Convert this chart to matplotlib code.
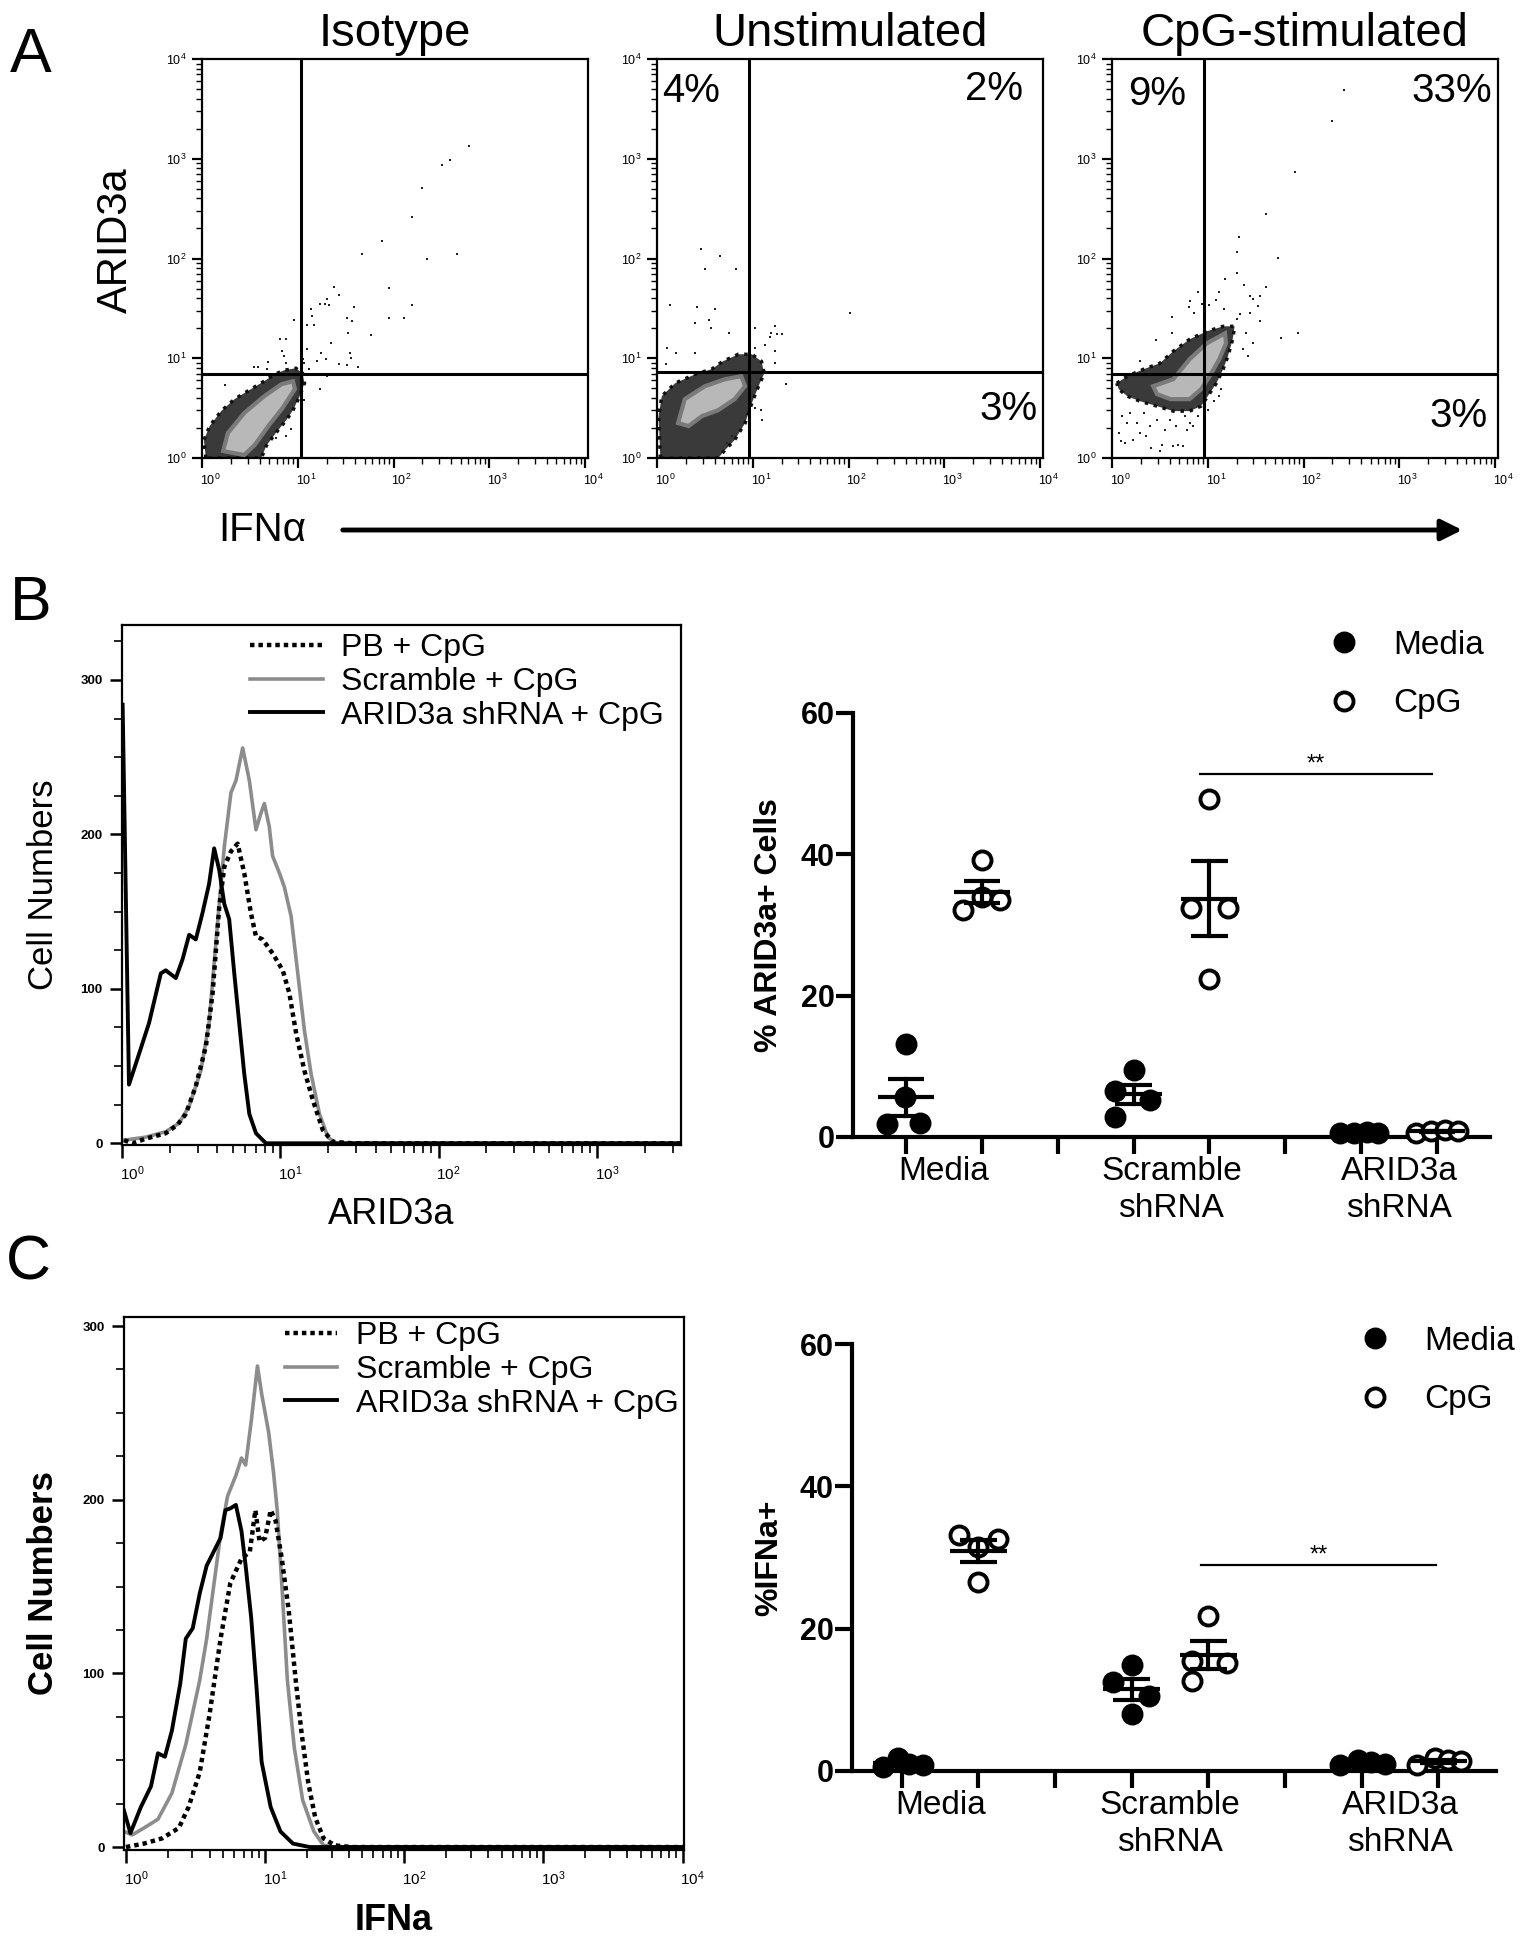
import numpy as np
import matplotlib
matplotlib.use("Agg")
import matplotlib.pyplot as plt
import matplotlib.transforms as mtransforms
from matplotlib.patches import Polygon, FancyArrowPatch
from matplotlib.ticker import LogLocator, NullFormatter, MultipleLocator, FixedLocator

plt.rcParams['font.family'] = ['Liberation Sans', 'DejaVu Sans']
plt.rcParams['mathtext.fontset'] = 'custom'
plt.rcParams['mathtext.rm'] = 'Liberation Sans'
plt.rcParams['mathtext.bf'] = 'Liberation Sans:bold'

W, H = 1523, 1950

# ---------------- panel A : flow dot plots (log10 coordinates) ----------------
panel_titles = ['Isotype', 'Unstimulated', 'CpG-stimulated']
gates = [(10.7, 7.0), (9.1, 7.2), (9.1, 7.0)]          # quadrant gate (IFNa, ARID3a)
quad_pct = [None, ['4%', '2%', '3%'], ['9%', '33%', '3%']]

# cloud outlines (log10 x, log10 y)
iso_outer_x = [0.04, 0.02, 0.08, 0.20, 0.34, 0.51, 0.65, 0.76, 0.86, 0.98, 1.05, 1.07, 1.02, 0.95, 0.88, 0.77, 0.67, 0.62]
iso_outer_y = [0.00, 0.18, 0.32, 0.47, 0.59, 0.69, 0.77, 0.84, 0.88, 0.90, 0.85, 0.75, 0.62, 0.48, 0.38, 0.25, 0.12, 0.00]
iso_inner_x = [0.22, 0.27, 0.44, 0.65, 0.83, 0.95, 0.97, 0.84, 0.70, 0.55, 0.44]
iso_inner_y = [0.07, 0.25, 0.45, 0.62, 0.74, 0.77, 0.69, 0.50, 0.33, 0.13, 0.03]
iso_dots_x = [2.79, 2.51, 2.59, 2.30, 2.19, 1.88, 1.67, 2.35, 2.66, 1.95, 2.19, 1.95, 2.11, 1.38, 1.43, 1.31,
              1.28, 1.33, 1.23, 1.14, 1.15, 1.10, 1.17, 1.59, 1.51, 1.57, 1.52, 1.76, 1.35, 0.96, 1.04, 1.10,
              1.24, 1.29, 1.20, 1.43, 1.51, 1.54, 1.56, 1.63, 1.31, 1.23, 1.07, 0.81, 0.88, 0.84, 0.86, 0.88,
              0.69, 0.54, 0.58, 0.68, 0.24, 0.93, 0.88, 0.77, 1.05, 1.07, 1.12]
iso_dots_y = [3.13, 2.94, 2.99, 2.71, 2.42, 2.18, 2.05, 2.00, 2.05, 1.70, 1.53, 1.40, 1.40, 1.71, 1.63, 1.59,
              1.54, 1.53, 1.54, 1.49, 1.42, 1.33, 1.33, 1.51, 1.40, 1.37, 1.25, 1.23, 1.15, 1.38, 1.41, 1.09,
              1.05, 0.99, 0.97, 0.94, 0.93, 1.05, 1.00, 0.91, 0.82, 0.69, 0.58, 1.19, 1.19, 1.07, 1.02, 0.95,
              0.96, 0.91, 0.91, 0.89, 0.73, 0.29, 0.22, 0.20, 0.99, 0.95, 0.89]

uns_outer_x = [0.035, 0.017, 0.05, 0.19, 0.40, 0.57, 0.69, 0.85, 0.99, 1.09, 1.12, 1.06, 0.99, 0.92, 0.81, 0.71, 0.64]
uns_outer_y = [0.00, 0.42, 0.62, 0.75, 0.84, 0.89, 0.97, 1.04, 1.04, 0.97, 0.85, 0.72, 0.55, 0.35, 0.18, 0.08, 0.00]
uns_inner_x = [0.22, 0.29, 0.50, 0.71, 0.88, 0.92, 0.81, 0.64, 0.47, 0.33]
uns_inner_y = [0.35, 0.59, 0.72, 0.79, 0.82, 0.72, 0.59, 0.48, 0.42, 0.32]
uns_dots_x = [0.46, 0.66, 0.50, 0.83, 0.14, 0.42, 0.61, 0.40, 0.54, 0.56, 0.75, 0.10, 0.20, 0.40, 0.09, 2.01,
              1.02, 1.23, 1.19, 1.25, 1.30, 1.18, 1.13, 1.23, 1.23, 1.02, 1.35, 1.09, 1.10, 1.02, 0.78, 0.73]
uns_dots_y = [2.10, 2.03, 1.89, 1.89, 1.53, 1.51, 1.49, 1.35, 1.38, 1.30, 1.25, 1.10, 1.05, 1.05, 0.94, 1.45,
              1.30, 1.32, 1.25, 1.24, 1.24, 1.21, 1.13, 1.07, 0.95, 1.10, 0.74, 0.48, 0.38, 0.50, 0.22, 0.15]

cpg_outer_x = [0.05, 0.16, 0.33, 0.50, 0.64, 0.81, 0.99, 1.16, 1.28, 1.26, 1.21, 1.16, 1.09, 1.00, 0.93, 0.81,
               0.64, 0.47, 0.29, 0.16, 0.07]
cpg_outer_y = [0.75, 0.82, 0.89, 0.95, 1.07, 1.19, 1.27, 1.32, 1.32, 1.19, 1.02, 0.89, 0.75, 0.62, 0.52, 0.47,
               0.47, 0.52, 0.57, 0.62, 0.69]
cpg_inner_x = [0.43, 0.64, 0.81, 0.99, 1.18, 1.19, 1.12, 1.02, 0.93, 0.81, 0.61, 0.47]
cpg_inner_y = [0.72, 0.79, 0.99, 1.15, 1.25, 1.15, 0.99, 0.82, 0.69, 0.59, 0.59, 0.64]
cpg_dots_x = [2.42, 2.30, 1.91, 1.61, 1.33, 1.30, 1.73, 1.31, 1.18, 1.38, 1.61, 1.12, 1.44, 1.47, 1.54, 0.90,
              0.81, 0.80, 0.94, 1.01, 1.09, 1.17, 0.86, 0.63, 0.63, 1.52, 1.44, 1.34, 1.31, 1.55, 1.76, 1.94,
              1.40, 1.47, 1.37, 1.42, 0.46, 0.29, 1.12, 1.14, 1.06, 1.00, 0.07, 0.09, 0.14, 0.26, 0.36, 0.41,
              0.50, 0.52, 0.55, 0.64, 0.69, 0.74, 0.78, 0.85, 0.90, 0.33, 0.47, 0.61, 0.67, 0.19, 0.16, 0.10,
              0.29, 0.22, 0.76, 0.81, 0.40]
cpg_dots_y = [3.69, 3.38, 2.87, 2.45, 2.22, 2.07, 2.01, 1.85, 1.79, 1.73, 1.71, 1.66, 1.62, 1.59, 1.62, 1.66,
              1.57, 1.51, 1.54, 1.53, 1.58, 1.49, 1.45, 1.41, 1.25, 1.52, 1.45, 1.44, 1.39, 1.37, 1.20, 1.25,
              1.25, 1.15, 1.09, 1.02, 1.18, 0.97, 0.62, 0.69, 0.57, 0.48, 0.25, 0.17, 0.15, 0.35, 0.22, 0.10,
              0.07, 0.13, 0.28, 0.12, 0.13, 0.12, 0.28, 0.32, 0.42, 0.45, 0.38, 0.38, 0.32, 0.45, 0.35, 0.42,
              0.25, 0.18, 0.42, 0.35, 0.32]

# ---------------- histograms (log10 fluorescence, cell counts) ----------------
hist_labels = ['PB + CpG', 'Scramble + CpG', 'ARID3a shRNA + CpG']

b_pb_x = [0.013, 0.066, 0.15, 0.276, 0.35, 0.403, 0.466, 0.53, 0.572, 0.614, 0.646, 0.688, 0.73, 0.772, 0.814,
          0.846, 0.888, 0.951, 1.015, 1.057, 1.1, 1.152, 1.205, 1.268, 1.331, 1.458, 3.53]
b_pb_y = [2, 0, 3, 6.5, 12, 19, 37, 63, 97, 153, 179, 189, 194, 175, 149, 134, 132, 123, 112, 97, 71, 47, 28,
          8.6, 1, 0, 0]
b_scr_x = [0.013, 0.15, 0.276, 0.36, 0.424, 0.498, 0.55, 0.603, 0.646, 0.688, 0.72, 0.762, 0.804, 0.846, 0.878,
           0.899, 0.93, 0.951, 0.994, 1.025, 1.068, 1.11, 1.152, 1.194, 1.247, 1.3, 1.352, 3.53]
b_scr_y = [2, 4, 7.5, 13, 24, 47, 78, 142, 192, 227, 235, 256, 235, 203, 214, 220, 205, 186, 175, 166, 147, 110,
           73, 45, 19, 4, 0, 0]
b_sh_x = [0.004, 0.044, 0.108, 0.171, 0.245, 0.276, 0.34, 0.382, 0.424, 0.466, 0.508, 0.55, 0.582, 0.614, 0.646,
          0.677, 0.709, 0.74, 0.772, 0.804, 0.846, 0.909, 3.53]
b_sh_y = [284, 38, 58, 78, 110, 112, 107, 119, 135, 132, 149, 168, 191, 177, 155, 145, 110, 78, 45, 19, 6.5, 0, 0]

c_pb_x = [0.0, 0.13, 0.26, 0.38, 0.45, 0.53, 0.6, 0.68, 0.75, 0.83, 0.89, 0.93, 0.96, 1.0, 1.04, 1.075, 1.12,
          1.17, 1.22, 1.26, 1.31, 1.36, 1.42, 1.5, 1.62, 4.01]
c_pb_y = [0, 2, 5, 11, 23, 43, 76, 120, 152, 166, 170, 194, 176, 178, 194, 188, 166, 136, 96, 67, 37, 17, 5, 1,
          0, 0]
c_scr_x = [-0.014, 0.045, 0.13, 0.23, 0.33, 0.43, 0.53, 0.58, 0.63, 0.68, 0.73, 0.79, 0.83, 0.86, 0.9, 0.945,
           0.975, 1.025, 1.06, 1.087, 1.124, 1.16, 1.21, 1.27, 1.35, 1.42, 1.5, 4.01]
c_scr_y = [9, 7, 11, 16, 31, 59, 96, 120, 150, 180, 202, 214, 224, 220, 245, 277, 261, 239, 216, 194, 146, 96,
           57, 27, 9, 1, 0, 0]
c_sh_x = [-0.014, 0.032, 0.107, 0.18, 0.23, 0.28, 0.33, 0.39, 0.43, 0.48, 0.53, 0.58, 0.63, 0.68, 0.715, 0.75,
          0.79, 0.83, 0.86, 0.9, 0.94, 0.975, 1.04, 1.11, 1.2, 1.32, 4.01]
c_sh_y = [21, 8, 23, 35, 54, 52, 67, 94, 120, 126, 146, 162, 170, 178, 194, 195, 197, 182, 162, 132, 90, 49, 23,
          9, 2, 0, 0]

# ---------------- dot plots (% positive), x = group position + jitter ----------------
group_names = ['Media', 'Scramble\nshRNA', 'ARID3a\nshRNA']
media_pos = [1, 4, 7]
cpg_pos = [2, 5, 8]

b_media_vals = [[13.1, 5.6, 1.8, 2.0], [9.5, 6.5, 5.3, 2.8], [0.5, 0.6, 0.7, 0.6]]
b_media_off = [[0.0, -0.02, -0.25, 0.19], [0.0, -0.24, 0.22, -0.24], [-0.28, -0.1, 0.08, 0.22]]
b_cpg_vals = [[39.2, 32.1, 33.9, 33.5], [47.8, 32.4, 32.4, 22.3], [0.5, 0.9, 1.0, 0.8]]
b_cpg_off = [[0.0, -0.25, 0.0, 0.24], [0.0, -0.24, 0.24, 0.0], [-0.28, -0.08, 0.1, 0.28]]

c_media_vals = [[0.6, 1.8, 1.0, 0.9], [14.9, 12.5, 10.5, 8.0], [0.8, 1.6, 1.2, 1.0]]
c_media_off = [[-0.25, -0.05, 0.1, 0.28], [0.0, -0.25, 0.22, 0.0], [-0.28, -0.05, 0.12, 0.3]]
c_cpg_vals = [[33.1, 32.6, 31.5, 26.5], [21.8, 15.5, 15.2, 12.7], [0.8, 1.8, 1.5, 1.4]]
c_cpg_off = [[-0.25, 0.25, 0.0, 0.0], [0.0, -0.22, 0.24, -0.22], [-0.28, -0.05, 0.12, 0.3]]


def rect(x0, y0, x1, y1):
    return [x0 / W, 1 - y1 / H, (x1 - x0) / W, (y1 - y0) / H]


def ftext(x, y, s, **kw):
    fig.text(x / W, 1 - y / H, s, **kw)


def shift_xlabels(ax, px):
    off = mtransforms.ScaledTranslation(px / 100, 0, fig.dpi_scale_trans)
    for lab in ax.get_xticklabels():
        lab.set_transform(lab.get_transform() + off)


fig = plt.figure(figsize=(15.23, 19.5), dpi=100)

# ---------------- A ----------------
flow_rects = [rect(202, 59, 588, 458), rect(657, 59, 1043, 458), rect(1112, 59, 1498, 458)]
flow_data = [
    (iso_outer_x, iso_outer_y, iso_inner_x, iso_inner_y, iso_dots_x, iso_dots_y),
    (uns_outer_x, uns_outer_y, uns_inner_x, uns_inner_y, uns_dots_x, uns_dots_y),
    (cpg_outer_x, cpg_outer_y, cpg_inner_x, cpg_inner_y, cpg_dots_x, cpg_dots_y),
]
pct_pos = [None,
           [(0.013, 0.892, 'left'), (0.948, 0.897, 'right'), (0.987, 0.095, 'right')],
           [(0.041, 0.885, 'left'), (0.984, 0.892, 'right'), (0.974, 0.078, 'right')]]

for i in range(3):
    ax = fig.add_axes(flow_rects[i])
    ox, oy, ix, iy, dx, dy = flow_data[i]
    ax.set_xscale('log')
    ax.set_yscale('log')
    ax.add_patch(Polygon(np.column_stack([10 ** np.array(ox), 10 ** np.array(oy)]), closed=True,
                         fc='#3a3a3a', ec='#111111', lw=2.5, ls=':', zorder=2))
    ax.add_patch(Polygon(np.column_stack([10 ** np.array(ix), 10 ** np.array(iy)]), closed=True,
                         fc='#b8b8b8', ec='#7a7a7a', lw=3, zorder=3))
    ax.scatter(10 ** np.array(dx), 10 ** np.array(dy), s=4, c='#222222', marker='s', linewidths=0, zorder=4)
    ax.axvline(gates[i][0], color='black', lw=2.2, zorder=5)
    ax.axhline(gates[i][1], color='black', lw=2.2, zorder=5)
    ax.set_xlim(1.0, 10 ** 4.03)
    ax.set_ylim(1.0, 1e4)
    for axis in (ax.xaxis, ax.yaxis):
        axis.set_major_locator(LogLocator(10, numticks=10))
        axis.set_minor_locator(LogLocator(10, subs=np.arange(2, 10), numticks=10))
        axis.set_minor_formatter(NullFormatter())
    ax.tick_params(which='major', length=7, width=1.6, labelsize=9, pad=4)
    ax.tick_params(which='minor', length=4, width=1)
    for s in ax.spines.values():
        s.set_linewidth(1.6)
    shift_xlabels(ax, 8)
    if quad_pct[i]:
        for (px, py, ha), t in zip(pct_pos[i], quad_pct[i]):
            ax.text(px, py, t, transform=ax.transAxes, ha=ha, va='baseline', fontsize=29)
    cx = (flow_rects[i][0] + flow_rects[i][2] / 2) * W
    ftext(cx, 46, panel_titles[i], ha='center', va='baseline', fontsize=34)

ftext(116, 240, 'ARID3a', rotation=90, ha='center', va='center', fontsize=30)
ftext(262, 530, 'IFNα', ha='center', va='center', fontsize=29)
fig.add_artist(FancyArrowPatch((340 / W, 1 - 530 / H), (1465 / W, 1 - 530 / H), transform=fig.transFigure,
                               arrowstyle='-|>', mutation_scale=32, lw=3.5, color='black'))

# ---------------- histograms ----------------
hist_specs = [
    (rect(122, 625, 681, 1145), (1.0, 10 ** 3.53), (-1.1, 335.6),
     (b_pb_x, b_pb_y, b_scr_x, b_scr_y, b_sh_x, b_sh_y), 'ARID3a', 'normal', (250, 633), 2.3, 0.56),
    (rect(124, 1317, 684, 1850), (10 ** -0.014, 10 ** 4.01), (-1.7, 305.2),
     (c_pb_x, c_pb_y, c_scr_x, c_scr_y, c_sh_x, c_sh_y), 'IFNa', 'bold', (285, 1321), 1.63, 0.6),
]
for r, xl, yl, curves, xlab, wt, leg_xy, hlen, hpad in hist_specs:
    ax = fig.add_axes(r)
    ax.set_xscale('log')
    px, py, sx, sy, kx, ky = curves
    l2, = ax.plot(10 ** np.array(sx), sy, color='#8c8c8c', lw=2.6, label=hist_labels[1])
    l1, = ax.plot(10 ** np.array(px), py, color='black', lw=3.2, ls=(0, (1, 0.9)), label=hist_labels[0])
    l3, = ax.plot(10 ** np.array(kx), ky, color='black', lw=2.8, label=hist_labels[2])
    ax.set_xlim(*xl)
    ax.set_ylim(*yl)
    ax.xaxis.set_major_locator(LogLocator(10, numticks=10))
    ax.xaxis.set_minor_locator(LogLocator(10, subs=np.arange(2, 10), numticks=10))
    ax.xaxis.set_minor_formatter(NullFormatter())
    ax.yaxis.set_major_locator(FixedLocator([0, 100, 200, 300]))
    ax.yaxis.set_minor_locator(MultipleLocator(25))
    ax.tick_params(which='major', length=9, width=1.8, labelsize=9.5, pad=5)
    ax.tick_params(axis='x', which='major', labelsize=11)
    ax.tick_params(which='minor', length=6, width=1.2)
    for lab in ax.get_yticklabels():
        lab.set_fontweight('bold')
    for s in ax.spines.values():
        s.set_linewidth(1.6)
    shift_xlabels(ax, 10)
    ax.legend(handles=[l1, l2, l3], loc='upper left', bbox_to_anchor=(leg_xy[0] / W, 1 - leg_xy[1] / H),
              bbox_transform=fig.transFigure, frameon=False, fontsize=23, borderpad=0, borderaxespad=0,
              handlelength=hlen, handletextpad=hpad, labelspacing=0.12)
    bb = ax.get_position()
    ycen = (1 - (bb.y0 + bb.y1) / 2) * H
    ftext(44, ycen, 'Cell Numbers', rotation=90, ha='center', va='center', fontsize=25, fontweight=wt)
    xcen = (bb.x0 + bb.x1) / 2 * W
    ftext(xcen - 10, (1 - bb.y0) * H + 70, xlab, ha='center', va='center', fontsize=26, fontweight=wt)

# ---------------- dot plots ----------------
dot_specs = [
    (rect(853, 713, 1490, 1137), (0.3, 8.7), b_media_vals, b_media_off, b_cpg_vals, b_cpg_off,
     '% ARID3a+ Cells', (4.87, 7.93, 51.4), (1327, 630)),
    (rect(852, 1344, 1496, 1771), (0.35, 8.75), c_media_vals, c_media_off, c_cpg_vals, c_cpg_off,
     '%IFNa+', (4.9, 7.97, 29.0), (1358, 1326)),
]
for r, xl, mv, mo, cv, co, ylab, sig, leg_xy in dot_specs:
    ax = fig.add_axes(r)
    hm = hc = None
    for g in range(3):
        for pos, vals, offs, filled in ((media_pos[g], mv[g], mo[g], True), (cpg_pos[g], cv[g], co[g], False)):
            v = np.array(vals)
            m = v.mean()
            sem = v.std(ddof=1) / np.sqrt(len(v))
            h, = ax.plot(pos + np.array(offs), v, ls='none', marker='o', ms=13,
                         mfc='black' if filled else 'white', mec='black', mew=2.8,
                         clip_on=False, zorder=3)
            if filled:
                hm = h
            else:
                hc = h
            ax.plot([pos - 0.37, pos + 0.37], [m, m], color='black', lw=3, zorder=4, solid_capstyle='butt')
            ax.plot([pos, pos], [m - sem, m + sem], color='black', lw=3, zorder=4)
            for e in (m - sem, m + sem):
                ax.plot([pos - 0.24, pos + 0.24], [e, e], color='black', lw=3, zorder=4,
                        solid_capstyle='butt')
    ax.set_xlim(*xl)
    ax.set_ylim(0, 60)
    ax.spines['top'].set_visible(False)
    ax.spines['right'].set_visible(False)
    ax.spines['left'].set_linewidth(3)
    ax.spines['bottom'].set_linewidth(3)
    ax.set_yticks([0, 20, 40, 60])
    ax.set_xticks(range(1, 9))
    ax.set_xticklabels([''] * 8)
    ax.set_xticks([1.5, 4.5, 7.5], minor=True)
    ax.set_xticklabels(group_names, minor=True, fontsize=24, linespacing=1.25)
    ax.tick_params(axis='x', which='major', length=12, width=3, direction='out')
    ax.tick_params(axis='x', which='minor', length=0, pad=14)
    ax.tick_params(axis='y', length=12, width=3, labelsize=22, pad=1)
    for lab in ax.get_yticklabels():
        lab.set_fontweight('bold')
    ax.plot([sig[0], sig[1]], [sig[2], sig[2]], color='black', lw=1.6)
    ax.text((sig[0] + sig[1]) / 2, sig[2] + 0.4, '**', ha='center', va='baseline', fontsize=17)
    ax.legend(handles=[hm, hc], labels=['Media', 'CpG'], loc='upper left',
              bbox_to_anchor=(leg_xy[0] / W, 1 - leg_xy[1] / H), bbox_transform=fig.transFigure,
              frameon=False, fontsize=24, borderpad=0, borderaxespad=0, handlelength=1.0,
              handletextpad=0.98, labelspacing=0.82)
    bb = ax.get_position()
    ycen = (1 - (bb.y0 + bb.y1) / 2) * H
    ftext(769, ycen, ylab, rotation=90, ha='center', va='center', fontsize=23, fontweight='bold')

# ---------------- panel letters ----------------
ftext(10, 72, 'A', fontsize=45, va='baseline')
ftext(10, 620, 'B', fontsize=45, va='baseline')
ftext(6, 1280, 'C', fontsize=45, va='baseline')

fig.savefig('out.png', dpi=100)
